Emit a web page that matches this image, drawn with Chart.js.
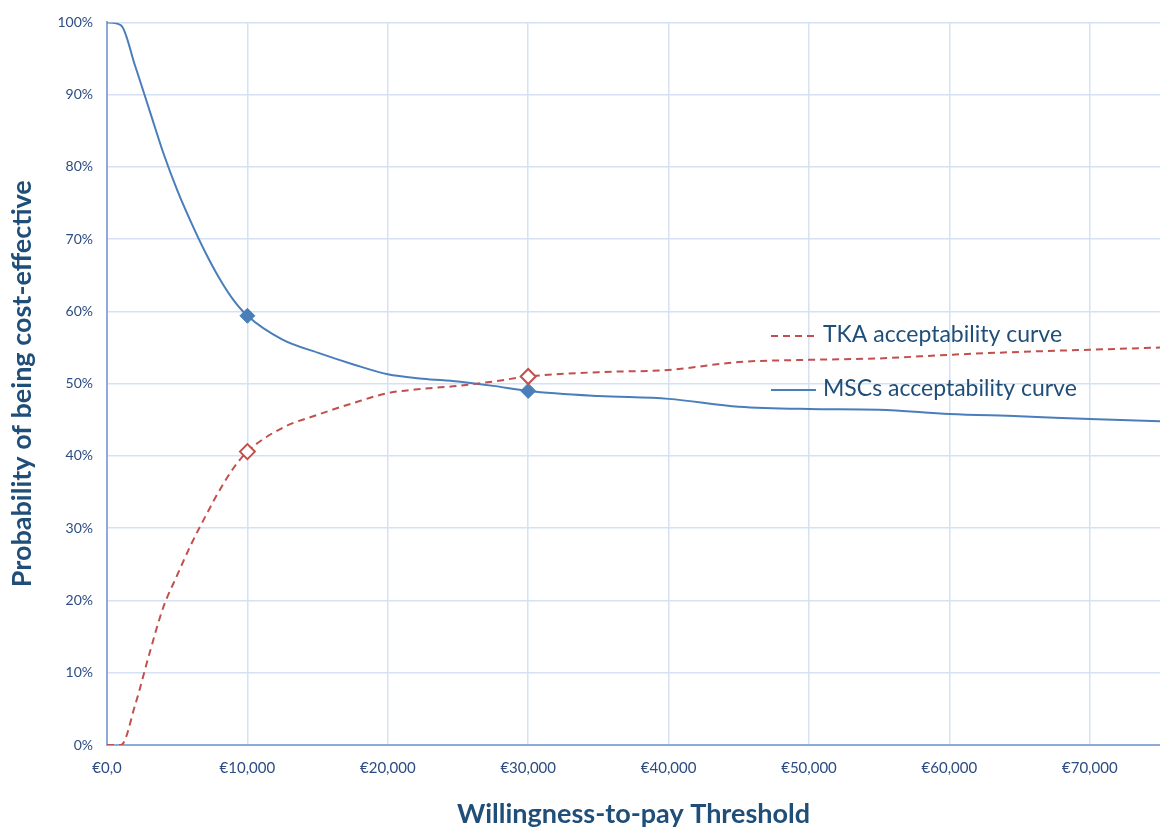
<!DOCTYPE html>
<html>
<head>
<meta charset="utf-8">
<script src="https://cdn.jsdelivr.net/npm/chart.js@4/dist/chart.umd.min.js"></script>
<style>
  html, body { margin: 0; padding: 0; background: #fff; }
  .chart-container { position: relative; width: 1160px; height: 830px; }
</style>
</head>
<body>
<div class="chart-container">
  <canvas id="myChart"></canvas>
</div>
<script>
// willingness-to-pay thresholds (EUR)
const thresholds = [0, 1000, 2000, 3000, 4000, 5000, 6000, 7000, 8000, 9000, 10000,
  12500, 15000, 17500, 20000, 22500, 25000, 27500, 30000,
  35000, 40000, 45000, 50000, 55000, 60000, 65000, 70000, 75000];

// probability of being cost-effective (%)
const tkaValues = [0, 0, 5.5, 12.5, 19, 23.5, 27.8, 31.6, 35.2, 38.3, 40.6,
  43.9, 45.7, 47.3, 48.7, 49.3, 49.7, 50.3, 51.0,
  51.6, 51.9, 53.0, 53.3, 53.5, 54.0, 54.4, 54.7, 55.0];
const mscValues = [100, 99.6, 94, 88, 82, 76.8, 72.3, 68.2, 64.6, 61.6, 59.4,
  56.1, 54.3, 52.7, 51.3, 50.7, 50.3, 49.7, 49.0,
  48.3, 47.9, 46.8, 46.5, 46.4, 45.8, 45.5, 45.1, 44.8];

const markerThresholds = [10000, 30000];
const xTicks = [0, 10000, 20000, 30000, 40000, 50000, 60000, 70000];

const seriesLabels = ["TKA acceptability curve", "MSCs acceptability curve"];

const toPoints = (vals) => thresholds.map((t, i) => ({ x: t, y: vals[i] }));
const markerRadius = (ctx) => (ctx.raw && markerThresholds.includes(ctx.raw.x) ? 7.5 : 0);

const labelColor = "#2c4c82";
const titleColor = "#1f4e79";

// legend drawn inside the plot, like the original
const insideLegend = {
  id: "insideLegend",
  afterDatasetsDraw(chart) {
    const { ctx } = chart;
    const rows = [
      { ds: chart.data.datasets[0], y: 336 },
      { ds: chart.data.datasets[1], y: 390 },
    ];
    ctx.save();
    rows.forEach(({ ds, y }) => {
      ctx.beginPath();
      ctx.strokeStyle = ds.borderColor;
      ctx.lineWidth = 2;
      ctx.setLineDash(ds.borderDash || []);
      ctx.moveTo(771, y);
      ctx.lineTo(816, y);
      ctx.stroke();
      ctx.setLineDash([]);
      ctx.fillStyle = titleColor;
      ctx.font = "23px Lato";
      ctx.textBaseline = "middle";
      ctx.fillText(ds.label, 823, y - 1);
    });
    ctx.restore();
  },
};

const chart = new Chart(document.getElementById("myChart"), {
  type: "line",
  data: {
    datasets: [
      {
        label: seriesLabels[0],
        data: toPoints(tkaValues),
        borderColor: "#c0504d",
        borderWidth: 2,
        borderDash: [7, 5],
        cubicInterpolationMode: "monotone",
        pointStyle: "rectRot",
        pointRadius: markerRadius,
        pointBackgroundColor: "#ffffff",
        pointBorderColor: "#c0504d",
        pointBorderWidth: 2,
      },
      {
        label: seriesLabels[1],
        data: toPoints(mscValues),
        borderColor: "#4a7ebb",
        borderWidth: 2,
        cubicInterpolationMode: "monotone",
        pointStyle: "rectRot",
        pointRadius: markerRadius,
        pointBackgroundColor: "#4a7ebb",
        pointBorderColor: "#4a7ebb",
        pointBorderWidth: 1,
      },
    ],
  },
  options: {
    responsive: true,
    maintainAspectRatio: false,
    animation: false,
    layout: { padding: { top: 20, right: 0, left: 0, bottom: 0 } },
    scales: {
      x: {
        type: "linear",
        min: 0,
        max: 75000,
        afterBuildTicks: (scale) => {
          scale.ticks = xTicks.map((v) => ({ value: v }));
        },
        afterFit: (scale) => { scale.height = 85; },
        grid: { color: "#d6e2f3", lineWidth: 1.5, drawTicks: false },
        border: { color: "#8eaadb", width: 2 },
        ticks: {
          padding: 14,
          color: labelColor,
          font: { family: "Lato", size: 15 },
          maxRotation: 0,
          callback: (v) => (v === 0 ? "€0,0" : "€" + v.toLocaleString("en-US")),
        },
        title: {
          display: true,
          text: "Willingness-to-pay Threshold",
          color: titleColor,
          font: { family: "Lato", size: 27, weight: "bold" },
          padding: { top: 0, bottom: 0 },
        },
      },
      y: {
        min: 0,
        max: 100,
        afterFit: (scale) => { scale.width = 107; },
        grid: { color: "#d6e2f3", lineWidth: 1.5, drawTicks: false },
        border: { color: "#8eaadb", width: 2 },
        ticks: {
          stepSize: 10,
          padding: 14,
          color: labelColor,
          font: { family: "Lato", size: 14 },
          callback: (v) => v + "%",
        },
        title: {
          display: true,
          text: "Probability of being cost-effective",
          color: titleColor,
          font: { family: "Lato", size: 27, weight: "bold" },
          padding: { top: 6, bottom: 0 },
        },
      },
    },
    plugins: {
      legend: { display: false },
      tooltip: { enabled: false },
    },
  },
  plugins: [insideLegend],
});
</script>
</body>
</html>
